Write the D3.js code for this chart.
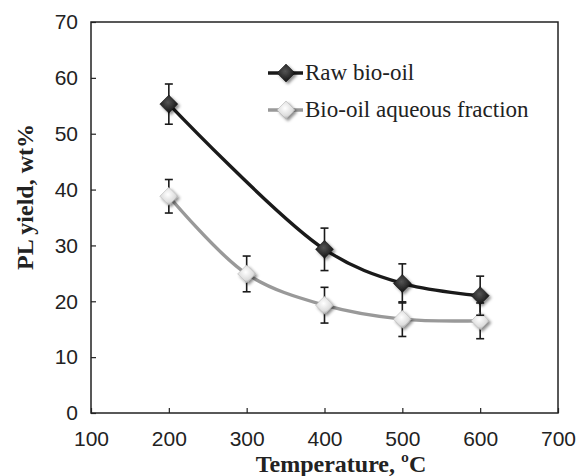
<!DOCTYPE html>
<html>
<head>
<meta charset="utf-8" />
<style>
    body { margin: 0; background: #fff; }
    text.tick { font-family: "Liberation Sans", Arial, sans-serif; font-size: 21px; fill: #222; }
    text.title { font-family: "Liberation Serif", "Times New Roman", serif; font-size: 24px; font-weight: bold; fill: #222; }
    text.legend { font-family: "Liberation Serif", "Times New Roman", serif; font-size: 23px; fill: #222; }
</style>
<script src="https://d3js.org/d3.v7.min.js"></script>
</head>
<body>
<script>

// data
let temps = [200, 400, 500, 600];
let rawYield = [55.3, 29.3, 23.2, 21.0];
let rawErr = [3.6, 3.8, 3.5, 3.5];

let aqTemps = [200, 300, 400, 500, 600];
let aqYield = [38.8, 24.9, 19.3, 16.8, 16.5];
let aqErr = [3.0, 3.2, 3.2, 3.1, 3.2];

let xTicks = [100, 200, 300, 400, 500, 600, 700];
let yTicks = [0, 10, 20, 30, 40, 50, 60, 70];

let seriesNames = ["Raw bio-oil", "Bio-oil aqueous fraction"];

let W = 579, H = 476;
let margin = { top: 22, right: 21, bottom: 63, left: 91 };
let w = W - margin.left - margin.right,
    h = H - margin.top - margin.bottom;

let svg = d3.select("body").append("svg")
    .attr("width", W)
    .attr("height", H);

// gradients + shadow for the markers
let defs = svg.append("defs");
let gDark = defs.append("radialGradient").attr("id", "gDark").attr("cx", "45%").attr("cy", "40%").attr("r", "60%");
gDark.append("stop").attr("offset", "0%").attr("stop-color", "#555");
gDark.append("stop").attr("offset", "100%").attr("stop-color", "#111");
let gLight = defs.append("radialGradient").attr("id", "gLight").attr("cx", "45%").attr("cy", "40%").attr("r", "60%");
gLight.append("stop").attr("offset", "0%").attr("stop-color", "#fff");
gLight.append("stop").attr("offset", "70%").attr("stop-color", "#ddd");
gLight.append("stop").attr("offset", "100%").attr("stop-color", "#aaa");
let shadow = defs.append("filter").attr("id", "shadow").attr("x", "-50%").attr("y", "-50%").attr("width", "200%").attr("height", "200%");
shadow.append("feDropShadow").attr("dx", 2).attr("dy", 2).attr("stdDeviation", 1.5)
    .attr("flood-color", "#000").attr("flood-opacity", 0.45);

let g = svg.append("g").attr("transform", "translate(" + margin.left + "," + margin.top + ")");

let xScale = d3.scaleLinear().domain([100, 700]).range([0, w]);
let yScale = d3.scaleLinear().domain([0, 70]).range([h, 0]);

// frame
g.append("rect")
    .attr("x", 0).attr("y", 0).attr("width", w).attr("height", h)
    .attr("fill", "none").attr("stroke", "#222").attr("stroke-width", 1.5);

// x axis (ticks inside)
let xAxis = g.append("g")
    .attr("transform", "translate(0," + h + ")")
    .call(d3.axisBottom(xScale).tickValues(xTicks).tickSizeInner(-5).tickSizeOuter(0).tickPadding(18));
xAxis.select(".domain").remove();
xAxis.selectAll("line").attr("stroke", "#222").attr("stroke-width", 1.2);
xAxis.selectAll("text").attr("class", "tick").attr("font-size", null).attr("font-family", null);

// y axis (ticks inside)
let yAxis = g.append("g")
    .call(d3.axisLeft(yScale).tickValues(yTicks).tickSizeInner(-5).tickSizeOuter(0).tickPadding(13));
yAxis.select(".domain").remove();
yAxis.selectAll("line").attr("stroke", "#222").attr("stroke-width", 1.2);
yAxis.selectAll("text").attr("class", "tick").attr("font-size", null).attr("font-family", null);

// axis titles
svg.append("text").attr("class", "title")
    .attr("x", 341).attr("y", 472)
    .attr("text-anchor", "middle")
    .text("Temperature, ºC");
svg.append("text").attr("class", "title")
    .attr("transform", "translate(33,197) rotate(-90)")
    .attr("text-anchor", "middle")
    .text("PL yield, wt%");

let line = d3.line()
    .x(d => xScale(d[0]))
    .y(d => yScale(d[1]))
    .curve(d3.curveCatmullRom.alpha(0.5));

let series = [
    { x: temps, y: rawYield, e: rawErr, color: "#1a1a1a", fill: "url(#gDark)", stroke: "#111" },
    { x: aqTemps, y: aqYield, e: aqErr, color: "#999", fill: "url(#gLight)", stroke: "#aaa" }
];

let diamond = "M0,-9L9,0L0,9L-9,0Z";

series.slice().reverse().forEach(s => {
    let pts = s.x.map((t, i) => [t, s.y[i], s.e[i]]);

    g.append("path")
        .datum(pts)
        .attr("d", line)
        .attr("fill", "none")
        .attr("stroke", s.color)
        .attr("stroke-width", 3.4);

    // error bars
    let eb = g.append("g").selectAll("g")
        .data(pts).enter().append("g")
        .attr("stroke", "#1a1a1a").attr("stroke-width", 1.6);
    eb.append("line")
        .attr("x1", d => xScale(d[0])).attr("x2", d => xScale(d[0]))
        .attr("y1", d => yScale(d[1] + d[2])).attr("y2", d => yScale(d[1] - d[2]));
    eb.append("line")
        .attr("x1", d => xScale(d[0]) - 4).attr("x2", d => xScale(d[0]) + 4)
        .attr("y1", d => yScale(d[1] + d[2])).attr("y2", d => yScale(d[1] + d[2]));
    eb.append("line")
        .attr("x1", d => xScale(d[0]) - 4).attr("x2", d => xScale(d[0]) + 4)
        .attr("y1", d => yScale(d[1] - d[2])).attr("y2", d => yScale(d[1] - d[2]));

    g.append("g").selectAll("path")
        .data(pts).enter().append("path")
        .attr("d", diamond)
        .attr("transform", d => "translate(" + xScale(d[0]) + "," + yScale(d[1]) + ")")
        .attr("fill", s.fill)
        .attr("stroke", s.stroke).attr("stroke-width", 0.5)
        .attr("filter", "url(#shadow)");

    // error bar stems drawn again over marker, as in the original
    eb.append("line")
        .attr("x1", d => xScale(d[0])).attr("x2", d => xScale(d[0]))
        .attr("y1", d => yScale(d[1]) - 9).attr("y2", d => yScale(d[1]) + 9)
        .attr("stroke-width", 1.2).attr("opacity", 0.6);
});

// legend
let legend = svg.append("g");
seriesNames.forEach((name, i) => {
    let s = series[i];
    let ly = 73 + i * 37;
    legend.append("line")
        .attr("x1", 268).attr("x2", 303).attr("y1", ly).attr("y2", ly)
        .attr("stroke", s.color).attr("stroke-width", 3.4);
    legend.append("path")
        .attr("d", diamond)
        .attr("transform", "translate(286," + ly + ")")
        .attr("fill", s.fill).attr("stroke", s.stroke).attr("stroke-width", 0.5)
        .attr("filter", "url(#shadow)");
    legend.append("text").attr("class", "legend")
        .attr("x", 305).attr("y", ly + 7)
        .text(name);
});

</script>
</body>
</html>
